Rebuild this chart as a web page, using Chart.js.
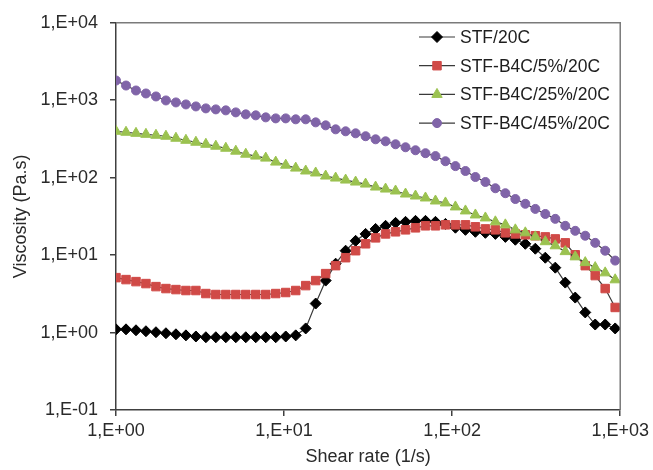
<!DOCTYPE html>
<html>
<head>
<meta charset="utf-8">
<script src="https://cdn.jsdelivr.net/npm/chart.js@4/dist/chart.umd.min.js"></script>
<style>
  html, body { margin: 0; padding: 0; background: #fff; }
  #viscosityChart { display: block; }
</style>
</head>
<body>
<canvas id="viscosityChart" width="653" height="470"></canvas>
<script>
// Shear rate sweep (1/s), log spaced
const shearRate = [
    1, 1.147, 1.315, 1.507, 1.729, 1.982, 2.273, 2.606, 2.988, 3.425,
    3.926, 4.502, 5.162, 5.918, 6.785, 7.780, 8.920, 10.23, 11.73, 13.45,
    15.42, 17.68, 20.27, 23.24, 26.65, 30.55, 35.03, 40.17, 46.05, 52.80,
    60.53, 69.40, 79.58, 91.25, 104.6, 120.0, 137.5, 157.7, 180.8, 207.3,
    237.7, 272.5, 312.5, 358.3, 410.8, 471.0, 540.0, 619.2, 709.9, 813.9,
    933.3
];

// Viscosity (Pa.s) per sample
const stf20 = [
    1.10, 1.10, 1.07, 1.04, 1.01, 0.98, 0.95, 0.92, 0.89, 0.87,
    0.87, 0.87, 0.87, 0.87, 0.87, 0.87, 0.87, 0.89, 0.92, 1.13,
    2.37, 4.69, 7.75, 11.4, 15.3, 18.8, 21.8, 23.9, 26.1, 26.9,
    27.7, 27.7, 26.9, 25.3, 22.6, 21.2, 20.0, 19.4, 18.8, 17.2,
    15.8, 14.0, 12.1, 9.26, 6.89, 4.42, 2.83, 1.82, 1.27, 1.27,
    1.13
];
const b4c5 = [
    5.12, 4.83, 4.55, 4.29, 3.92, 3.70, 3.59, 3.49, 3.49, 3.19,
    3.10, 3.10, 3.10, 3.10, 3.10, 3.10, 3.19, 3.29, 3.49, 4.04,
    4.69, 5.77, 7.31, 9.26, 11.4, 14.0, 16.7, 18.8, 20.0, 21.2,
    22.5, 23.9, 23.9, 24.6, 24.6, 24.6, 23.2, 21.8, 21.2, 19.4,
    18.8, 18.3, 17.8, 17.2, 16.2, 14.4, 10.1, 7.31, 5.44, 3.70,
    2.11
];
const b4c25 = [
    397, 386, 374, 363, 353, 343, 323, 304, 287, 270,
    255, 240, 220, 201, 190, 179, 159, 145, 133, 122,
    115, 105, 98.9, 93.2, 87.8, 82.7, 75.7, 71.3, 67.3, 61.5,
    58.0, 54.7, 50.0, 47.2, 41.9, 37.2, 33.0, 30.2, 26.9, 24.6,
    21.2, 19.4, 17.2, 14.9, 13.2, 11.1, 9.5, 8.0, 6.9, 5.9,
    4.8
];
const b4c45 = [
    1797, 1549, 1336, 1223, 1119, 994, 937, 883, 832, 785,
    762, 740, 697, 657, 638, 601, 583, 583, 567, 567,
    518, 474, 421, 397, 374, 343, 313, 295, 270, 247,
    226, 207, 190, 163, 141, 122, 102, 88, 73, 63,
    53, 46, 39.5, 34, 29.4, 23.9, 20.6, 17.8, 14.4, 11.4,
    8.5
];

const seriesLabels = ['STF/20C', 'STF-B4C/5%/20C', 'STF-B4C/25%/20C', 'STF-B4C/45%/20C'];

// Axis ticks (decades) and their labels
const xTicks = [1, 10, 100, 1000];
const xTickLabels = ['1,E+00', '1,E+01', '1,E+02', '1,E+03'];
const yTicks = [0.1, 1, 10, 100, 1000, 10000];
const yTickLabels = ['1,E-01', '1,E+00', '1,E+01', '1,E+02', '1,E+03', '1,E+04'];

const FONT = '"Liberation Sans", Arial, sans-serif';
const LINE_COLOR = '#3a3a3a';

const toPoints = (vals) => shearRate.map((x, i) => ({ x: x, y: vals[i] }));

const makeSeries = (label, vals, style, color, radius, order) => ({
    label: label,
    data: toPoints(vals),
    borderColor: LINE_COLOR,
    borderWidth: 1.2,
    pointStyle: style,
    pointRadius: radius,
    pointBackgroundColor: color,
    pointBorderColor: color,
    pointBorderWidth: 1,
    tension: 0,
    order: order
});

// Frame on top/right of the plot area
const plotFrame = {
    id: 'plotFrame',
    afterDraw(chart) {
        const { ctx, chartArea: a } = chart;
        ctx.save();
        ctx.strokeStyle = '#7a7a7a';
        ctx.lineWidth = 1.5;
        ctx.beginPath();
        ctx.moveTo(a.left, a.top);
        ctx.lineTo(a.right, a.top);
        ctx.lineTo(a.right, a.bottom);
        ctx.stroke();
        ctx.restore();
    }
};

// Legend with line-through-marker symbols, inside the plot
const lineLegend = {
    id: 'lineLegend',
    afterDraw(chart) {
        const ctx = chart.ctx;
        chart.data.datasets.forEach((ds, i) => {
            const y = 37 + i * 28.7;
            ctx.save();
            ctx.strokeStyle = ds.borderColor;
            ctx.lineWidth = 1.2;
            ctx.beginPath();
            ctx.moveTo(419, y);
            ctx.lineTo(455, y);
            ctx.stroke();
            ctx.fillStyle = ds.pointBackgroundColor;
            ctx.strokeStyle = ds.pointBorderColor;
            ctx.lineWidth = 1;
            Chart.helpers.drawPoint(ctx, {
                pointStyle: ds.pointStyle,
                radius: ds.pointRadius,
                rotation: 0,
                borderWidth: 1
            }, 437, y);
            ctx.fillStyle = '#1e1e1e';
            ctx.font = '17.5px ' + FONT;
            ctx.textBaseline = 'middle';
            ctx.textAlign = 'left';
            ctx.fillText(ds.label, 460, y + 1);
            ctx.restore();
        });
    }
};

new Chart(document.getElementById('viscosityChart'), {
    type: 'line',
    data: {
        datasets: [
            makeSeries(seriesLabels[0], stf20, 'rectRot', '#000000', 5.5, 4),
            makeSeries(seriesLabels[1], b4c5, 'rect', '#d04a47', 6, 3),
            makeSeries(seriesLabels[2], b4c25, 'triangle', '#9bc250', 6, 2),
            makeSeries(seriesLabels[3], b4c45, 'circle', '#8064a8', 4.5, 1)
        ]
    },
    options: {
        responsive: false,
        devicePixelRatio: 1,
        animation: false,
        layout: { padding: { top: 21, right: 32, left: 0, bottom: 0 } },
        plugins: {
            legend: { display: false },
            tooltip: { enabled: false }
        },
        scales: {
            x: {
                type: 'logarithmic',
                min: 1,
                max: 1000,
                afterBuildTicks: (scale) => { scale.ticks = xTicks.map(v => ({ value: v })); },
                afterFit: (scale) => { scale.height = 60; },
                grid: { drawOnChartArea: false, drawTicks: true, tickLength: 6, color: '#404040', lineWidth: 1.5 },
                border: { display: true, color: '#404040', width: 1.5 },
                ticks: {
                    autoSkip: false,
                    maxRotation: 0,
                    padding: 4,
                    color: '#2a2a2a',
                    font: { family: FONT, size: 18 },
                    callback: (v, i) => xTickLabels[i]
                },
                title: {
                    display: true,
                    text: 'Shear rate (1/s)',
                    color: '#2a2a2a',
                    font: { family: FONT, size: 18 },
                    padding: { top: 0, bottom: 2 }
                }
            },
            y: {
                type: 'logarithmic',
                min: 0.1,
                max: 10000,
                afterBuildTicks: (scale) => { scale.ticks = yTicks.map(v => ({ value: v })); },
                afterFit: (scale) => { scale.width = 116; },
                grid: { drawOnChartArea: false, drawTicks: true, tickLength: 6, color: '#404040', lineWidth: 1.5 },
                border: { display: true, color: '#404040', width: 1.5 },
                ticks: {
                    autoSkip: false,
                    padding: 12,
                    color: '#2a2a2a',
                    font: { family: FONT, size: 18 },
                    callback: (v, i) => yTickLabels[i]
                },
                title: {
                    display: true,
                    text: 'Viscosity (Pa.s)',
                    color: '#2a2a2a',
                    font: { family: FONT, size: 18 },
                    padding: { top: 10, bottom: 0 }
                }
            }
        }
    },
    plugins: [plotFrame, lineLegend]
});
</script>
</body>
</html>
